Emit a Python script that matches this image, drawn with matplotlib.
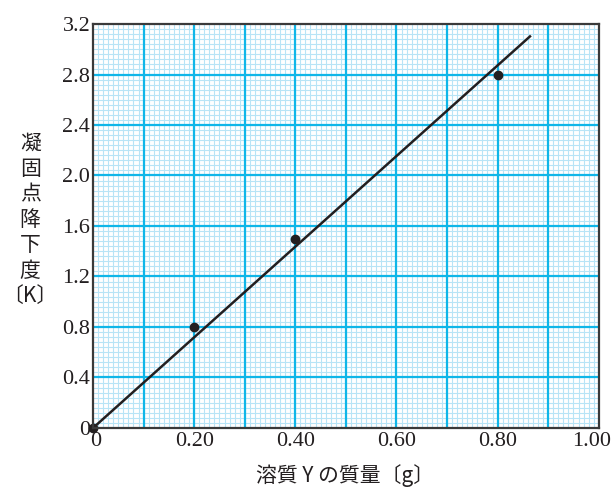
import matplotlib.pyplot as plt
import numpy as np
from matplotlib.ticker import FixedLocator
from matplotlib.transforms import ScaledTranslation

# data
mass_g = [0.0, 0.20, 0.40, 0.80]
depression_k = [0.0, 0.80, 1.50, 2.80]
fit_x = [0.0, 0.864]
fit_slope = 3.59
x_ticks = [0, 0.2, 0.4, 0.6, 0.8, 1.0]
x_ticklabels = ["0", "0.20", "0.40", "0.60", "0.80", "1.00"]
y_ticks = [0, 0.4, 0.8, 1.2, 1.6, 2.0, 2.4, 2.8, 3.2]
y_ticklabels = ["0", "0.4", "0.8", "1.2", "1.6", "2.0", "2.4", "2.8", "3.2"]

MAJOR = "#10b6e8"
MINOR = "#b8e4f6"
INK = "#231f20"
SERIF = ["Liberation Serif", "DejaVu Serif"]
JP = ["Noto Sans CJK JP", "DejaVu Sans"]

fig = plt.figure(figsize=(6.16, 4.95), dpi=100)
ax = fig.add_axes([0.151, 0.1354, 0.821, 0.8161])

ax.set_xlim(0, 1.0)
ax.set_ylim(0, 3.2)

# graph-paper grid
for xv in np.arange(0.01, 1.0, 0.01):
    ax.axvline(xv, color=MINOR, lw=0.8, zorder=0)
for yv in np.arange(0.04, 3.2, 0.04):
    ax.axhline(yv, color=MINOR, lw=0.8, zorder=0)
for xv in np.arange(0.1, 1.0, 0.1):
    ax.axvline(xv, color=MAJOR, lw=1.6, zorder=1)
for yv in np.arange(0.4, 3.2, 0.4):
    ax.axhline(yv, color=MAJOR, lw=1.6, zorder=1)

fx = np.array(fit_x)
ax.plot(fx, fit_slope * fx, color=INK, lw=1.8, zorder=3)
ax.scatter(mass_g, depression_k, s=36, color=INK, zorder=4, clip_on=False)

ax.xaxis.set_major_locator(FixedLocator(x_ticks))
ax.yaxis.set_major_locator(FixedLocator(y_ticks))
ax.set_xticklabels(x_ticklabels, fontfamily=SERIF, fontsize=16, color=INK)
ax.set_yticklabels(y_ticklabels, fontfamily=SERIF, fontsize=16, color=INK)
ax.tick_params(axis="x", length=0, pad=3)
ax.tick_params(axis="y", length=0, pad=2)
for sp in ax.spines.values():
    sp.set_color("#3a3a3a")
    sp.set_linewidth(1.6)
    sp.set_zorder(5)

# nudge end x labels: first away from the y "0", last inward onto the canvas
xlabels = ax.get_xticklabels()
xlabels[0].set_transform(xlabels[0].get_transform() + ScaledTranslation(3 / 100, 0, fig.dpi_scale_trans))
xlabels[-1].set_transform(xlabels[-1].get_transform() + ScaledTranslation(-7 / 100, 0, fig.dpi_scale_trans))

fig.text(0.049, 0.556, "凝\n固\n点\n降\n下\n度\n〔K〕", ha="center", va="center",
         fontfamily=JP, fontsize=15, color=INK, linespacing=1.2)
fig.text(0.56, 0.04, "溶質 Y の質量〔g〕", ha="center", va="center",
         fontfamily=JP, fontsize=15, color=INK)

fig.savefig("out.png", dpi=100)
